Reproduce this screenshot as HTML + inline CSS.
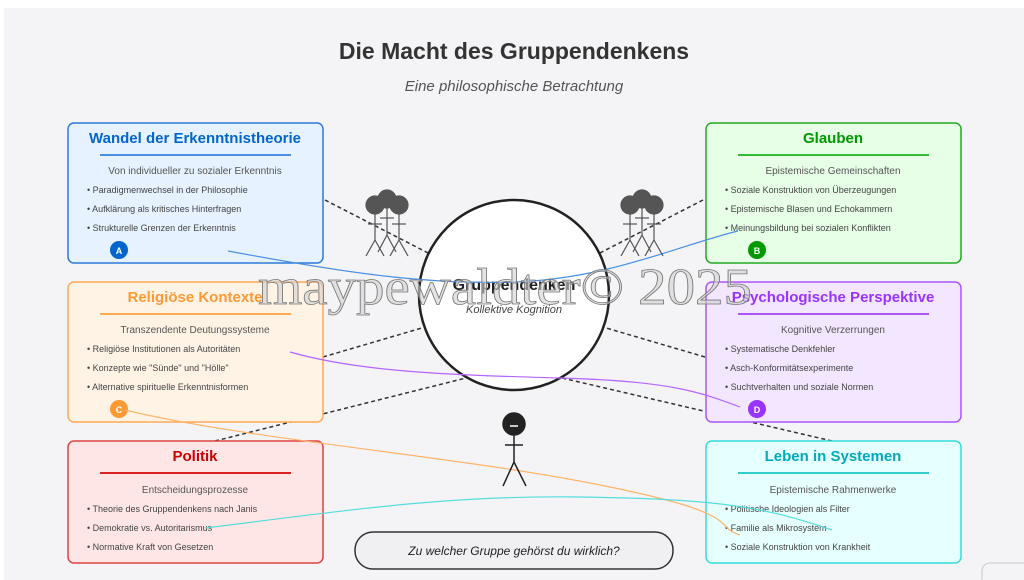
<!DOCTYPE html>
<html><head><meta charset="utf-8"><style>
html,body{margin:0;padding:0;background:#fff;width:1024px;height:580px;overflow:hidden}
svg{display:block;font-family:"Liberation Sans",sans-serif}
</style></head><body>
<svg width="1024" height="580" viewBox="0 0 1024 580" xmlns="http://www.w3.org/2000/svg">
<rect x="4" y="8" width="1020" height="572" fill="#f4f4f6"/>
<text x="514" y="59" text-anchor="middle" font-size="23" font-weight="bold" fill="#333">Die Macht des Gruppendenkens</text>
<text x="514" y="91" text-anchor="middle" font-size="15" font-style="italic" fill="#555">Eine philosophische Betrachtung</text>

<g stroke="#333" stroke-width="1.5" stroke-dasharray="4,3" fill="none">
<line x1="325" y1="200" x2="432" y2="255"/>
<line x1="703" y1="200" x2="596" y2="255"/>
<line x1="323" y1="357" x2="432" y2="325"/>
<line x1="705" y1="357" x2="596" y2="325"/>
<line x1="215" y1="441" x2="466" y2="378"/>
<line x1="832" y1="441" x2="562" y2="378"/>
</g>

<g font-size="9" fill="#444">
<rect x="68" y="123" width="255" height="140" rx="6" fill="#e6f2ff" stroke="#2a7bd6" stroke-width="1.5"/>
<text x="195" y="143" text-anchor="middle" font-size="15" font-weight="bold" fill="#0066cc">Wandel der Erkenntnistheorie</text>
<line x1="100" y1="155" x2="291" y2="155" stroke="#4a90e2" stroke-width="2"/>
<text x="195" y="174" text-anchor="middle" font-size="10" fill="#555">Von individueller zu sozialer Erkenntnis</text>
<text x="87" y="193">• Paradigmenwechsel in der Philosophie</text>
<text x="87" y="212">• Aufklärung als kritisches Hinterfragen</text>
<text x="87" y="231">• Strukturelle Grenzen der Erkenntnis</text>
<circle cx="119" cy="250" r="9" fill="#0066cc"/><text x="119" y="254" text-anchor="middle" font-size="9" font-weight="bold" fill="#fff">A</text>

<rect x="706" y="123" width="255" height="140" rx="6" fill="#e6ffe6" stroke="#22aa22" stroke-width="1.5"/>
<text x="833" y="143" text-anchor="middle" font-size="15" font-weight="bold" fill="#009900">Glauben</text>
<line x1="738" y1="155" x2="929" y2="155" stroke="#33bb33" stroke-width="2"/>
<text x="833" y="174" text-anchor="middle" font-size="10" fill="#555">Epistemische Gemeinschaften</text>
<text x="725" y="193">• Soziale Konstruktion von Überzeugungen</text>
<text x="725" y="212">• Epistemische Blasen und Echokammern</text>
<text x="725" y="231">• Meinungsbildung bei sozialen Konflikten</text>
<circle cx="757" cy="250" r="9" fill="#009900"/><text x="757" y="254" text-anchor="middle" font-size="9" font-weight="bold" fill="#fff">B</text>

<rect x="68" y="282" width="255" height="140" rx="6" fill="#fff3e6" stroke="#ffaa55" stroke-width="1.5"/>
<text x="195" y="302" text-anchor="middle" font-size="15" font-weight="bold" fill="#ff9933">Religiöse Kontexte</text>
<line x1="100" y1="314" x2="291" y2="314" stroke="#ffaa55" stroke-width="2"/>
<text x="195" y="333" text-anchor="middle" font-size="10" fill="#555">Transzendente Deutungssysteme</text>
<text x="87" y="352">• Religiöse Institutionen als Autoritäten</text>
<text x="87" y="371">• Konzepte wie "Sünde" und "Hölle"</text>
<text x="87" y="390">• Alternative spirituelle Erkenntnisformen</text>
<circle cx="119" cy="409" r="9" fill="#ff9933"/><text x="119" y="413" text-anchor="middle" font-size="9" font-weight="bold" fill="#fff">C</text>

<rect x="706" y="282" width="255" height="140" rx="6" fill="#f3e6ff" stroke="#aa55ff" stroke-width="1.5"/>
<text x="833" y="302" text-anchor="middle" font-size="15" font-weight="bold" fill="#9933ff">Psychologische Perspektive</text>
<line x1="738" y1="314" x2="929" y2="314" stroke="#aa55ff" stroke-width="2"/>
<text x="833" y="333" text-anchor="middle" font-size="10" fill="#555">Kognitive Verzerrungen</text>
<text x="725" y="352">• Systematische Denkfehler</text>
<text x="725" y="371">• Asch-Konformitätsexperimente</text>
<text x="725" y="390">• Suchtverhalten und soziale Normen</text>
<circle cx="757" cy="409" r="9" fill="#9933ff"/><text x="757" y="413" text-anchor="middle" font-size="9" font-weight="bold" fill="#fff">D</text>

<rect x="68" y="441" width="255" height="122" rx="6" fill="#ffe6e6" stroke="#dd4444" stroke-width="1.5"/>
<text x="195" y="461" text-anchor="middle" font-size="15" font-weight="bold" fill="#cc0000">Politik</text>
<line x1="100" y1="473" x2="291" y2="473" stroke="#dd2222" stroke-width="2"/>
<text x="195" y="493" text-anchor="middle" font-size="10" fill="#555">Entscheidungsprozesse</text>
<text x="87" y="512">• Theorie des Gruppendenkens nach Janis</text>
<text x="87" y="531">• Demokratie vs. Autoritarismus</text>
<text x="87" y="550">• Normative Kraft von Gesetzen</text>

<rect x="706" y="441" width="255" height="122" rx="6" fill="#e6ffff" stroke="#33dddd" stroke-width="1.5"/>
<text x="833" y="461" text-anchor="middle" font-size="15" font-weight="bold" fill="#00aabb">Leben in Systemen</text>
<line x1="738" y1="473" x2="929" y2="473" stroke="#33cccc" stroke-width="2"/>
<text x="833" y="493" text-anchor="middle" font-size="10" fill="#555">Epistemische Rahmenwerke</text>
<text x="725" y="512">• Politische Ideologien als Filter</text>
<text x="725" y="531">• Familie als Mikrosystem</text>
<text x="725" y="550">• Soziale Konstruktion von Krankheit</text>
</g>

<circle cx="514" cy="295" r="95" fill="#fff" stroke="#222" stroke-width="2.5"/>
<text x="514" y="290" text-anchor="middle" font-size="16" font-weight="bold" fill="#222">Gruppendenken</text>
<text x="514" y="313" text-anchor="middle" font-size="11" font-style="italic" fill="#444">Kollektive Kognition</text>

<g fill="none" stroke-width="1.2">
<path d="M228 251 C 330 270, 420 285, 514 282 S 680 245, 738 231" stroke="#4a90e2"/>
<path d="M290 352 C 360 372, 450 375, 560 378 S 700 392, 740 407" stroke="#b366ff"/>
<path d="M125 410 C 250 440, 450 455, 600 485 S 710 525, 740 535" stroke="#ffb366"/>
<path d="M205 528 C 350 510, 450 495, 580 497 S 760 505, 832 530" stroke="#55dddd"/>
</g>

<g id="crowd" fill="#555" stroke="#555" stroke-width="1.2">
<circle cx="375" cy="205" r="9"/><circle cx="387" cy="199" r="9"/><circle cx="399" cy="205" r="9"/>
<line x1="375" y1="210" x2="375" y2="240"/><line x1="387" y1="205" x2="387" y2="235"/><line x1="399" y1="210" x2="399" y2="240"/>
<line x1="368" y1="224" x2="382" y2="224"/><line x1="380" y1="218" x2="394" y2="218"/><line x1="392" y1="224" x2="406" y2="224"/>
<line x1="375" y1="240" x2="366" y2="256"/><line x1="375" y1="240" x2="384" y2="256"/>
<line x1="387" y1="235" x2="378" y2="252"/><line x1="387" y1="235" x2="396" y2="252"/>
<line x1="399" y1="240" x2="390" y2="256"/><line x1="399" y1="240" x2="408" y2="256"/>
</g>
<use href="#crowd" transform="translate(255,0)"/>

<g stroke="#222" stroke-width="1.5" fill="none">
<circle cx="514" cy="424" r="11" fill="#222"/>
<line x1="510" y1="426" x2="518" y2="426" stroke="#fff"/>
<line x1="514" y1="435" x2="514" y2="462"/>
<line x1="505" y1="445" x2="523" y2="445"/>
<line x1="514" y1="462" x2="503" y2="486"/><line x1="514" y1="462" x2="526" y2="486"/>
</g>

<rect x="355" y="532" width="318" height="37" rx="18" fill="#f0f0f2" stroke="#333" stroke-width="1.5"/>
<text x="514" y="555" text-anchor="middle" font-size="12" font-style="italic" fill="#222">Zu welcher Gruppe gehörst du wirklich?</text>
<rect x="982" y="563" width="60" height="30" rx="8" fill="none" stroke="#c8c8cc"/>

<text x="258" y="304" font-family="Liberation Serif, serif" font-size="52" fill="#d0d0d0" fill-opacity="0.6" stroke="#777" stroke-width="0.8" textLength="494" lengthAdjust="spacingAndGlyphs">maypewaldter© 2025</text>
</svg>
</body></html>
